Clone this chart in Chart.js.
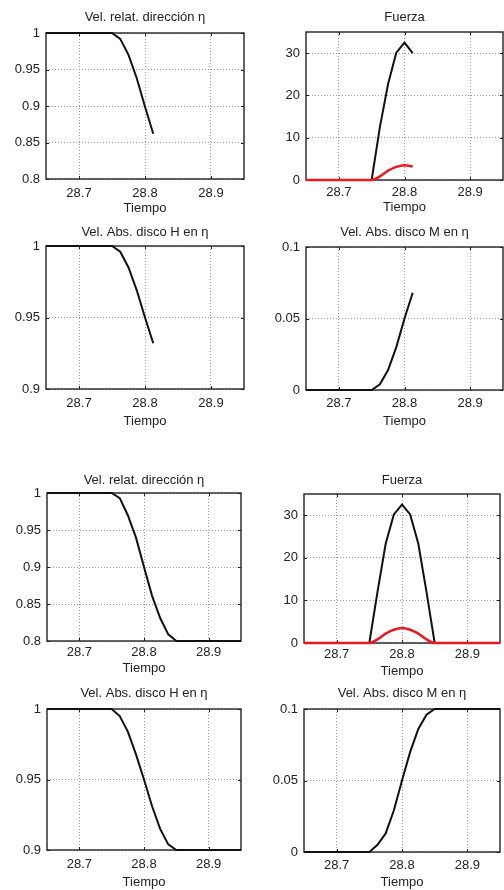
<!DOCTYPE html>
<html>
<head>
<meta charset="utf-8">
<script src="https://cdn.jsdelivr.net/npm/chart.js@4/dist/chart.umd.min.js"></script>
<style>
  body { margin: 0; background: #fff; }
  #wrap { position: relative; width: 504px; height: 890px; }
  #wrap canvas { position: absolute; left: 0; top: 0; }
</style>
</head>
<body>
<div id="wrap"></div>
<script>
const tiempo = [28.65, 28.6625, 28.675, 28.6875, 28.7, 28.7125, 28.725, 28.7375, 28.75, 28.7625,
  28.775, 28.7875, 28.8, 28.8125, 28.825, 28.8375, 28.85, 28.8625, 28.875, 28.8875, 28.9,
  28.9125, 28.925, 28.9375, 28.95];

// first run, stops at 28.8125
const velRelA = [1, 1, 1, 1, 1, 1, 1, 1, 1, 0.992, 0.970, 0.938, 0.899, 0.862];
const fuerzaA = [0, 0, 0, 0, 0, 0, 0, 0, 0, 12.5, 22.7, 30.1, 32.5, 30.0];
const fuerzaRojaA = [0, 0, 0, 0, 0, 0, 0, 0, 0, 0.85, 2.2, 3.1, 3.5, 3.2];
const velHA = [1, 1, 1, 1, 1, 1, 1, 1, 1, 0.996, 0.985, 0.969, 0.950, 0.932];
const velMA = [0, 0, 0, 0, 0, 0, 0, 0, 0, 0.004, 0.014, 0.030, 0.050, 0.068];

// second run, full range
const velRelB = [1, 1, 1, 1, 1, 1, 1, 1, 1, 0.993, 0.970, 0.940, 0.900, 0.861, 0.831, 0.809, 0.800,
  0.8, 0.8, 0.8, 0.8, 0.8, 0.8, 0.8, 0.8];
const fuerzaB = [0, 0, 0, 0, 0, 0, 0, 0, 0, 12, 23.3, 30.2, 32.5, 30.2, 23.3, 12, 0,
  0, 0, 0, 0, 0, 0, 0, 0];
const fuerzaRojaB = [0, 0, 0, 0, 0, 0, 0, 0, 0, 0.85, 2.2, 3.1, 3.5, 3.1, 2.2, 0.85, 0,
  0, 0, 0, 0, 0, 0, 0, 0];
const velHB = [1, 1, 1, 1, 1, 1, 1, 1, 1, 0.995, 0.984, 0.968, 0.950, 0.931, 0.915, 0.904, 0.900,
  0.9, 0.9, 0.9, 0.9, 0.9, 0.9, 0.9, 0.9];
const velMB = [0, 0, 0, 0, 0, 0, 0, 0, 0, 0.005, 0.013, 0.029, 0.050, 0.070, 0.086, 0.096, 0.100,
  0.1, 0.1, 0.1, 0.1, 0.1, 0.1, 0.1, 0.1];

const ticksX = [28.7, 28.8, 28.9];
const ticksVelRel = [0.8, 0.85, 0.9, 0.95, 1];
const ticksFuerza = [0, 10, 20, 30];
const ticksVelH = [0.9, 0.95, 1];
const ticksVelM = [0, 0.05, 0.1];

const titles = ['Vel. relat. dirección η', 'Fuerza', 'Vel. Abs. disco H en η', 'Vel. Abs. disco M en η'];
const xTitle = 'Tiempo';

const FONT = "'Liberation Sans', Arial, sans-serif";
const FS = 13;
const INK = '#222';
const W = 504, H = 890, Y_W = 44;

// plot boxes in page pixels
const panels = [
  { L: 46, T: 33, R: 244, B: 179, titleY: 17, tickPad: 6.5, xtY: 208.5, title: 0, yr: [0.8, 1], yt: ticksVelRel, lines: [velRelA] },
  { L: 306, T: 32, R: 503, B: 180, titleY: 17, tickPad: 5, xtY: 207.5, title: 1, yr: [0, 35], yt: ticksFuerza, lines: [fuerzaA], red: fuerzaRojaA },
  { L: 46, T: 246, R: 244, B: 389, titleY: 232, tickPad: 7, xtY: 421, title: 2, yr: [0.9, 1], yt: ticksVelH, lines: [velHA] },
  { L: 306, T: 247, R: 503, B: 390, titleY: 232, tickPad: 6, xtY: 421, title: 3, yr: [0, 0.1], yt: ticksVelM, lines: [velMA] },
  { L: 47, T: 493, R: 241, B: 641, titleY: 480, tickPad: 4, xtY: 668, title: 0, yr: [0.8, 1], yt: ticksVelRel, lines: [velRelB] },
  { L: 304, T: 494, R: 500, B: 643, titleY: 480, tickPad: 4, xtY: 671, title: 1, yr: [0, 35], yt: ticksFuerza, lines: [fuerzaB], red: fuerzaRojaB },
  { L: 47, T: 709, R: 241, B: 850, titleY: 693, tickPad: 7, xtY: 882.5, title: 2, yr: [0.9, 1], yt: ticksVelH, lines: [velHB] },
  { L: 304, T: 709, R: 500, B: 852, titleY: 693, tickPad: 6, xtY: 882.5, title: 3, yr: [0, 0.1], yt: ticksVelM, lines: [velMB] }
];

function toPoints(vals) {
  return vals.map((v, i) => ({ x: tiempo[i], y: v }));
}

// box, inward ticks and title, drawn under the curves like matlab does
const framePlugin = {
  id: 'frame',
  beforeDatasetsDraw(chart, args, opts) {
    const { ctx, chartArea: a, scales } = chart;
    ctx.save();
    ctx.strokeStyle = INK;
    ctx.lineWidth = 1;
    ctx.beginPath();
    scales.x.ticks.forEach(t => {
      const px = Math.round(scales.x.getPixelForValue(t.value)) + 0.5;
      ctx.moveTo(px, a.bottom); ctx.lineTo(px, a.bottom - 3);
      ctx.moveTo(px, a.top); ctx.lineTo(px, a.top + 3);
    });
    scales.y.ticks.forEach(t => {
      const py = Math.round(scales.y.getPixelForValue(t.value)) + 0.5;
      ctx.moveTo(a.left, py); ctx.lineTo(a.left + 3, py);
      ctx.moveTo(a.right, py); ctx.lineTo(a.right - 3, py);
    });
    ctx.stroke();
    ctx.lineWidth = 1.4;
    ctx.strokeRect(a.left, a.top, a.right - a.left, a.bottom - a.top);
    ctx.fillStyle = INK;
    ctx.font = FS + 'px ' + FONT;
    ctx.textAlign = 'center';
    ctx.textBaseline = 'middle';
    ctx.fillText(opts.text, (a.left + a.right) / 2, opts.y);
    ctx.restore();
  }
};

function makeChart(p) {
  const canvas = document.createElement('canvas');
  canvas.width = W;
  canvas.height = H;
  document.getElementById('wrap').appendChild(canvas);

  const xH = p.xtY - p.B + FS * 0.6;
  const datasets = p.lines.map(vals => ({
    data: toPoints(vals),
    borderColor: '#111',
    borderWidth: 2,
    pointRadius: 0,
    tension: 0,
    clip: 4,
    order: 1
  }));
  if (p.red) {
    datasets.push({
      data: toPoints(p.red),
      borderColor: '#e8191f',
      borderWidth: 2.5,
      pointRadius: 0,
      cubicInterpolationMode: 'monotone',
      clip: 4,
      order: 0
    });
  }

  new Chart(canvas, {
    type: 'line',
    data: { datasets },
    options: {
      responsive: false,
      animation: false,
      devicePixelRatio: 1,
      layout: { padding: { left: p.L - Y_W, right: W - p.R, top: p.T, bottom: H - p.B - xH } },
      plugins: {
        legend: { display: false },
        tooltip: { enabled: false },
        frame: { text: titles[p.title], y: p.titleY }
      },
      scales: {
        x: {
          type: 'linear',
          min: 28.65,
          max: 28.95,
          afterBuildTicks: s => { s.ticks = ticksX.map(v => ({ value: v })); },
          afterFit: s => { s.height = xH; },
          grid: { color: '#999', lineWidth: 1, drawTicks: false },
          border: { display: false, dash: [1, 2] },
          ticks: {
            padding: p.tickPad,
            color: INK,
            font: { family: FONT, size: FS },
            maxRotation: 0,
            callback: v => v.toFixed(1)
          },
          title: { display: true, text: xTitle, color: INK, padding: 0, font: { family: FONT, size: FS } }
        },
        y: {
          min: p.yr[0],
          max: p.yr[1],
          afterBuildTicks: s => { s.ticks = p.yt.map(v => ({ value: v })); },
          afterFit: s => { s.width = Y_W; },
          grid: { color: '#999', lineWidth: 1, drawTicks: false },
          border: { display: false, dash: [1, 2] },
          ticks: {
            padding: 6,
            color: INK,
            font: { family: FONT, size: FS },
            callback: v => String(+v.toFixed(3))
          }
        }
      }
    },
    plugins: [framePlugin]
  });
}

panels.forEach(makeChart);
</script>
</body>
</html>
